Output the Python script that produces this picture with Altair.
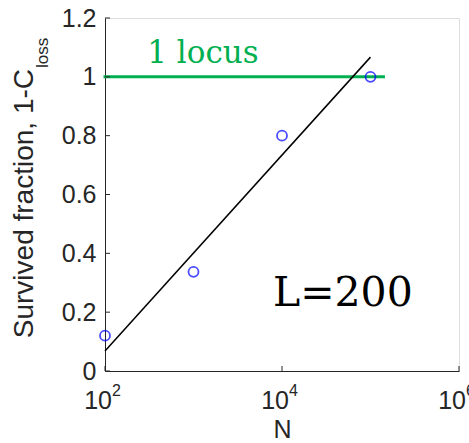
import altair as alt
import pandas as pd

# ---- data ----
N_pts = [100, 1000, 10000, 100000]
frac_pts = [0.12, 0.337, 0.80, 1.0]

fit_N = [100, 100000]
fit_frac = [0.068, 1.067]

locus_N = [100, 140000]
locus_frac = [1.0, 1.0]

x_ticks = [100, 10000, 1000000]
x_tick_base = ["10", "10", "10"]
x_tick_exp = ["2", "4", "6"]
y_ticks = [0, 0.2, 0.4, 0.6, 0.8, 1.0, 1.2]

locus_label = ["1 locus"]
locus_label_pos = ([300], [1.047])
L_label = ["L=200"]
L_label_pos = ([7900], [0.221])

y_title_main = ["Survived fraction, 1-C"]
y_title_sub = ["loss"]

W, H = 354, 353
AX = "#262626"
GREEN = "#00b050"
SANS = "Liberation Sans"
SERIF = "DejaVu Serif"

xs = alt.Scale(type="log", domain=[100, 1000000], nice=False)
ys = alt.Scale(domain=[0, 1.2], nice=False, zero=False)

X = alt.X("N:Q", scale=xs, axis=alt.Axis(
    values=x_ticks, labels=False, ticks=False, grid=False,
    domainColor=AX, domainWidth=1,
    title="N", titleFont=SANS, titleFontSize=25, titleFontWeight="normal",
    titleColor=AX, titleY=66, titleBaseline="alphabetic"))
Y = alt.Y("f:Q", scale=ys, axis=alt.Axis(
    values=y_ticks, format=".1~f", ticks=False, grid=False,
    domainColor=AX, domainWidth=1, labelColor=AX, labelFont=SANS,
    labelFontSize=25, labelPadding=9, labelFlush=False, labelOverlap=False,
    title=None))

locus = alt.Chart(pd.DataFrame({"N": locus_N, "f": locus_frac})).mark_line(
    color=GREEN, strokeWidth=3, strokeCap="square", clip=False
).encode(x=X, y=Y)

fit = alt.Chart(pd.DataFrame({"N": fit_N, "f": fit_frac})).mark_line(
    color="black", strokeWidth=1.5
).encode(x=X, y=Y)

pts = alt.Chart(pd.DataFrame({"N": N_pts, "f": frac_pts})).mark_point(
    shape="circle", filled=False, color="#0000ff", size=100, strokeWidth=1.8
).encode(x=X, y=Y)

xt = alt.Chart(pd.DataFrame({"N": x_ticks})).mark_rule(color=AX, strokeWidth=1).encode(
    x=X, y=alt.value(H), y2=alt.value(H - 5))
yt = alt.Chart(pd.DataFrame({"f": y_ticks})).mark_rule(color=AX, strokeWidth=1).encode(
    y=Y, x=alt.value(0), x2=alt.value(5))

xlab_df = pd.DataFrame({"N": x_ticks, "b": x_tick_base, "e": x_tick_exp})
xlab_base = alt.Chart(xlab_df).mark_text(
    font=SANS, fontSize=25, color=AX, align="right", baseline="alphabetic", dx=7
).encode(x=X, y=alt.value(H + 38), text="b:N")
xlab_exp = alt.Chart(xlab_df).mark_text(
    font=SANS, fontSize=16, color=AX, align="left", baseline="alphabetic", dx=7
).encode(x=X, y=alt.value(H + 25), text="e:N")

t_locus = alt.Chart(pd.DataFrame({"N": locus_label_pos[0], "f": locus_label_pos[1], "t": locus_label})).mark_text(
    font=SERIF, fontSize=31, color=GREEN, align="left", baseline="alphabetic"
).encode(x=X, y=Y, text="t:N")

t_L = alt.Chart(pd.DataFrame({"N": L_label_pos[0], "f": L_label_pos[1], "t": L_label})).mark_text(
    font=SERIF, fontSize=41, color="black", align="left", baseline="alphabetic"
).encode(x=X, y=Y, text="t:N")

yt_main = alt.Chart(pd.DataFrame({"t": y_title_main})).mark_text(
    font=SANS, fontSize=28, color=AX, angle=270, align="right", baseline="alphabetic"
).encode(text="t:N", x=alt.value(-72), y=alt.value(51))
yt_sub = alt.Chart(pd.DataFrame({"t": y_title_sub})).mark_text(
    font=SANS, fontSize=17, color=AX, angle=270, align="left", baseline="alphabetic"
).encode(text="t:N", x=alt.value(-57), y=alt.value(50))

chart = alt.layer(locus, fit, pts, xt, yt, xlab_base, xlab_exp, t_locus, t_L,
                  yt_main, yt_sub).properties(
    width=W, height=H,
    autosize=alt.AutoSizeParams(type="none"),
    padding={"left": 105, "top": 18, "right": 10, "bottom": 72},
).configure_view(stroke=None).configure(background="white")

chart.save("out.html", embed_options={"renderer": "svg", "actions": False})
